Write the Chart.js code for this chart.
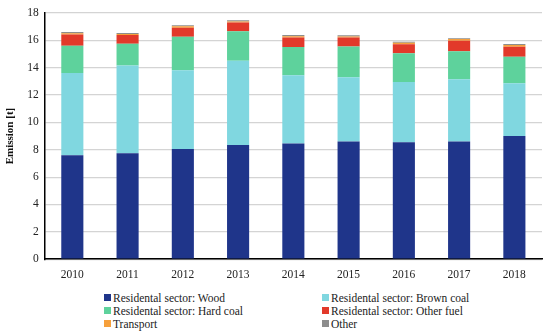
<!DOCTYPE html>
<html>
<head>
<meta charset="utf-8">
<script src="https://cdn.jsdelivr.net/npm/chart.js@4.4.1/dist/chart.umd.min.js"></script>
<style>
  body { margin: 0; background: #fff; }
  #wrap { position: relative; width: 550px; height: 335px; }
  #chartBox { position: absolute; left: 0; top: 0; width: 550px; height: 291px; }
  #legend {
    position: absolute; left: 104px; top: 291px; width: 440px;
    display: grid; grid-template-columns: 218px 218px; row-gap: 0;
    font-family: "Liberation Serif", serif; font-size: 11.5px; color: #222;
  }
  #legend div { display: flex; align-items: center; height: 13px; white-space: nowrap; }
  #legend span.box { width: 7px; height: 7px; margin-right: 2px; display: inline-block; }
</style>
</head>
<body>
<div id="wrap">
  <div id="chartBox"><canvas id="emissionChart"></canvas></div>
  <div id="legend"></div>
</div>
<script>
const years = ["2010", "2011", "2012", "2013", "2014", "2015", "2016", "2017", "2018"];

const wood = [7.6, 7.75, 8.05, 8.35, 8.45, 8.6, 8.55, 8.6, 9.0];
const brownCoal = [6.0, 6.4, 5.75, 6.15, 5.0, 4.7, 4.4, 4.55, 3.85];
const hardCoal = [2.0, 1.6, 2.45, 2.15, 2.05, 2.25, 2.1, 2.05, 1.95];
const otherFuel = [0.83, 0.63, 0.67, 0.64, 0.7, 0.65, 0.65, 0.77, 0.73];
const transport = [0.08, 0.08, 0.1, 0.09, 0.1, 0.08, 0.12, 0.12, 0.12];
const other = [0.1, 0.08, 0.08, 0.08, 0.08, 0.08, 0.08, 0.06, 0.08];

const serif = "'Liberation Serif', serif";

const makeSet = (label, data, color) => ({
  label,
  data,
  backgroundColor: color,
  borderWidth: 0,
  barPercentage: 0.4,
  categoryPercentage: 1.0
});

const datasets = [
  makeSet("Residental sector: Wood", wood, "#1f358a"),
  makeSet("Residental sector: Brown coal", brownCoal, "#80d7e0"),
  makeSet("Residental sector: Hard coal", hardCoal, "#5ed29c"),
  makeSet("Residental sector: Other fuel", otherFuel, "#e2392a"),
  makeSet("Transport", transport, "#f6a03c"),
  makeSet("Other", other, "#8d8d8d")
];

const ctx = document.getElementById("emissionChart").getContext("2d");

new Chart(ctx, {
  type: "bar",
  data: { labels: years, datasets },
  options: {
    responsive: true,
    maintainAspectRatio: false,
    animation: false,
    layout: { padding: { top: 7, right: 8, left: 4, bottom: 0 } },
    plugins: {
      legend: { display: false },
      tooltip: { enabled: false }
    },
    scales: {
      x: {
        stacked: true,
        grid: { display: false, drawTicks: false },
        border: { color: "#000", width: 1.5 },
        ticks: { color: "#222", font: { family: serif, size: 11.5 }, padding: 9 }
      },
      y: {
        stacked: true,
        min: 0,
        max: 18,
        grid: { color: "#d4d4d4", lineWidth: 1.2, drawTicks: false },
        border: { color: "#000", width: 1.5 },
        ticks: { stepSize: 2, color: "#222", font: { family: serif, size: 11.5 }, padding: 6 },
        title: {
          display: true,
          text: "Emission [t]",
          color: "#111",
          font: { family: serif, size: 11, weight: "bold" },
          padding: { top: 0, bottom: 4 }
        }
      }
    }
  }
});

const legendEl = document.getElementById("legend");
datasets.forEach((ds) => {
  const item = document.createElement("div");
  item.innerHTML = `<span class="box" style="background:${ds.backgroundColor}"></span>${ds.label}`;
  legendEl.appendChild(item);
});
</script>
</body>
</html>
